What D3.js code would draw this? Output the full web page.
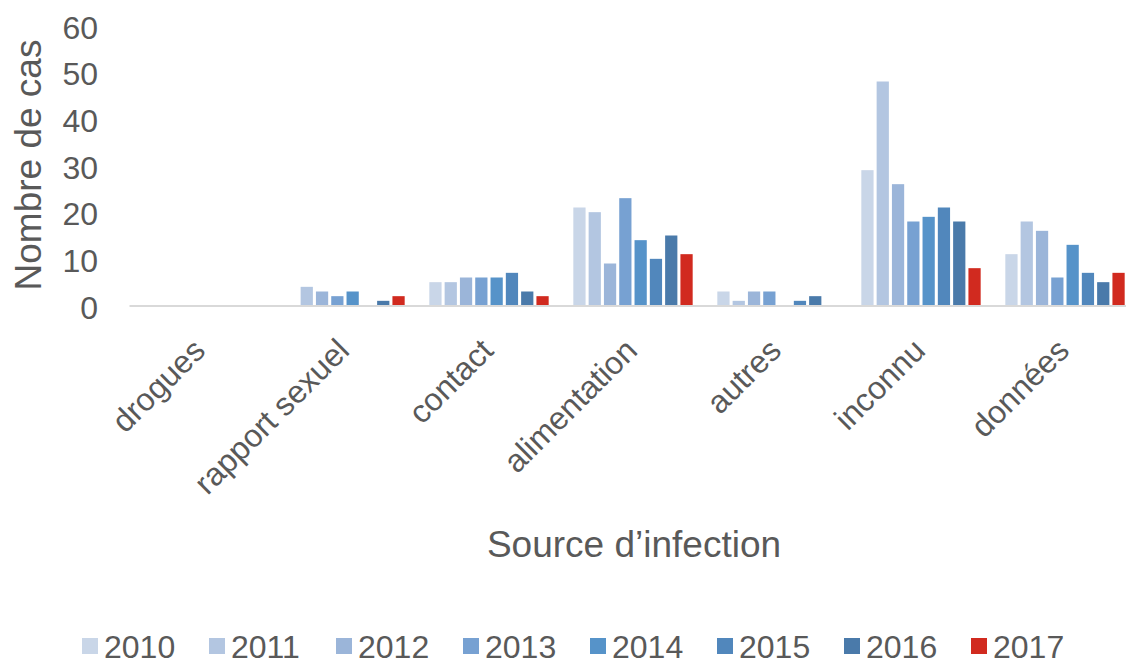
<!doctype html>
<html lang="fr">
  <head>
    <meta charset="utf-8">
    <title>Source d'infection</title>
    <style>
      body{margin:0;background:#fff;}
      svg{display:block;font-family:"Liberation Sans", Arial, sans-serif;}
    </style>
  </head>
  <body>
    <div class="holder"></div>
    <script src="https://cdn.jsdelivr.net/npm/d3@7/dist/d3.min.js"></script>
    <script>

      // categories and series
      var categories = ["drogues", "rapport sexuel", "contact", "alimentation", "autres", "inconnu", "données"];
      var years = ["2010", "2011", "2012", "2013", "2014", "2015", "2016", "2017"];
      var colors = ["#c9d6e8", "#b3c6e1", "#9bb5d9", "#77a1d2", "#5693c9", "#5187bc", "#4a7aaa", "#d12a1f"];

      // one array per category, values by year 2010..2017
      var drogues      = [0, 0, 0, 0, 0, 0, 0, 0];
      var rapport      = [0, 4, 3, 2, 3, 0, 1, 2];
      var contact      = [5, 5, 6, 6, 6, 7, 3, 2];
      var alimentation = [21, 20, 9, 23, 14, 10, 15, 11];
      var autres       = [3, 1, 3, 3, 0, 1, 2, 0];
      var inconnu      = [29, 48, 26, 18, 19, 21, 18, 8];
      var donnees      = [11, 18, 16, 6, 13, 7, 5, 7];

      var yTicks = [0, 10, 20, 30, 40, 50, 60];

      var values = [drogues, rapport, contact, alimentation, autres, inconnu, donnees];

      var width = 1126, height = 666,
          textColor = "#595959";

      var svg = d3.select(".holder")
          .append("svg")
          .attr("width", width)
          .attr("height", height);

      var x0 = d3.scaleBand()
          .domain(categories)
          .range([129, 1137])
          .paddingInner(0.15)
          .paddingOuter(0.075);

      var x1 = d3.scaleBand()
          .domain(years)
          .range([0, x0.bandwidth()])
          .paddingInner(0.2)
          .paddingOuter(0.1);

      var y = d3.scaleLinear()
          .domain([0, 60])
          .range([305.5, 25.5]);

      var color = d3.scaleOrdinal().domain(years).range(colors);

      // y tick labels
      var yAxis = svg.append("g")
          .attr("transform", "translate(98,2.5)")
          .call(d3.axisLeft(y).tickValues(yTicks).tickSize(0).tickPadding(0));
      yAxis.select(".domain").remove();
      yAxis.selectAll("text")
          .style("font-size", "32px")
          .style("font-family", "Liberation Sans, Arial, sans-serif")
          .attr("fill", textColor);

      // bars
      var rows = categories.map(function(c, i){
        return {cat: c, vals: values[i]};
      });

      var groups = svg.selectAll(".grp")
          .data(rows)
          .enter()
          .append("g")
          .attr("class", "grp")
          .attr("transform", function(d){ return "translate(" + x0(d.cat) + ",0)"; });

      groups.selectAll("rect")
          .data(function(d){ return d.vals.map(function(v, j){ return {year: years[j], value: v}; }); })
          .enter()
          .append("rect")
          .attr("x", function(d){ return x1(d.year); })
          .attr("width", x1.bandwidth())
          .attr("y", function(d){ return y(d.value); })
          .attr("height", function(d){ return y(0) - y(d.value); })
          .attr("fill", function(d){ return color(d.year); });

      // baseline + category labels
      var xAxis = svg.append("g")
          .attr("transform", "translate(0," + y(0) + ")")
          .call(d3.axisBottom(x0).tickSize(0).tickSizeOuter(0));
      xAxis.select(".domain")
          .attr("stroke", "#d9d9d9")
          .attr("stroke-width", 2);
      xAxis.selectAll("text")
          .attr("text-anchor", "end")
          .attr("fill", textColor)
          .style("font-size", "32px")
          .style("font-family", "Liberation Sans, Arial, sans-serif")
          .attr("x", 0).attr("y", 0).attr("dy", 0)
          .attr("transform", "translate(6,47) rotate(-45)");

      // axis titles
      svg.append("text")
          .attr("transform", "translate(41,165) rotate(-90)")
          .attr("text-anchor", "middle")
          .attr("fill", textColor)
          .style("font-size", "37px")
          .text("Nombre de cas");

      svg.append("text")
          .attr("x", 634)
          .attr("y", 557)
          .attr("text-anchor", "middle")
          .attr("fill", textColor)
          .style("font-size", "37px")
          .text("Source d’infection");

      // legend (kept just inside the bottom edge)
      var legend = svg.selectAll(".leg")
          .data(years)
          .enter()
          .append("g")
          .attr("class", "leg")
          .attr("transform", function(d, i){ return "translate(" + (82 + i * 127) + ",638)"; });

      legend.append("rect")
          .attr("width", 16)
          .attr("height", 16)
          .attr("fill", function(d){ return color(d); });

      legend.append("text")
          .attr("x", 22)
          .attr("y", 20)
          .attr("fill", textColor)
          .style("font-size", "32px")
          .text(function(d){ return d; });

    </script>
  </body>
</html>
